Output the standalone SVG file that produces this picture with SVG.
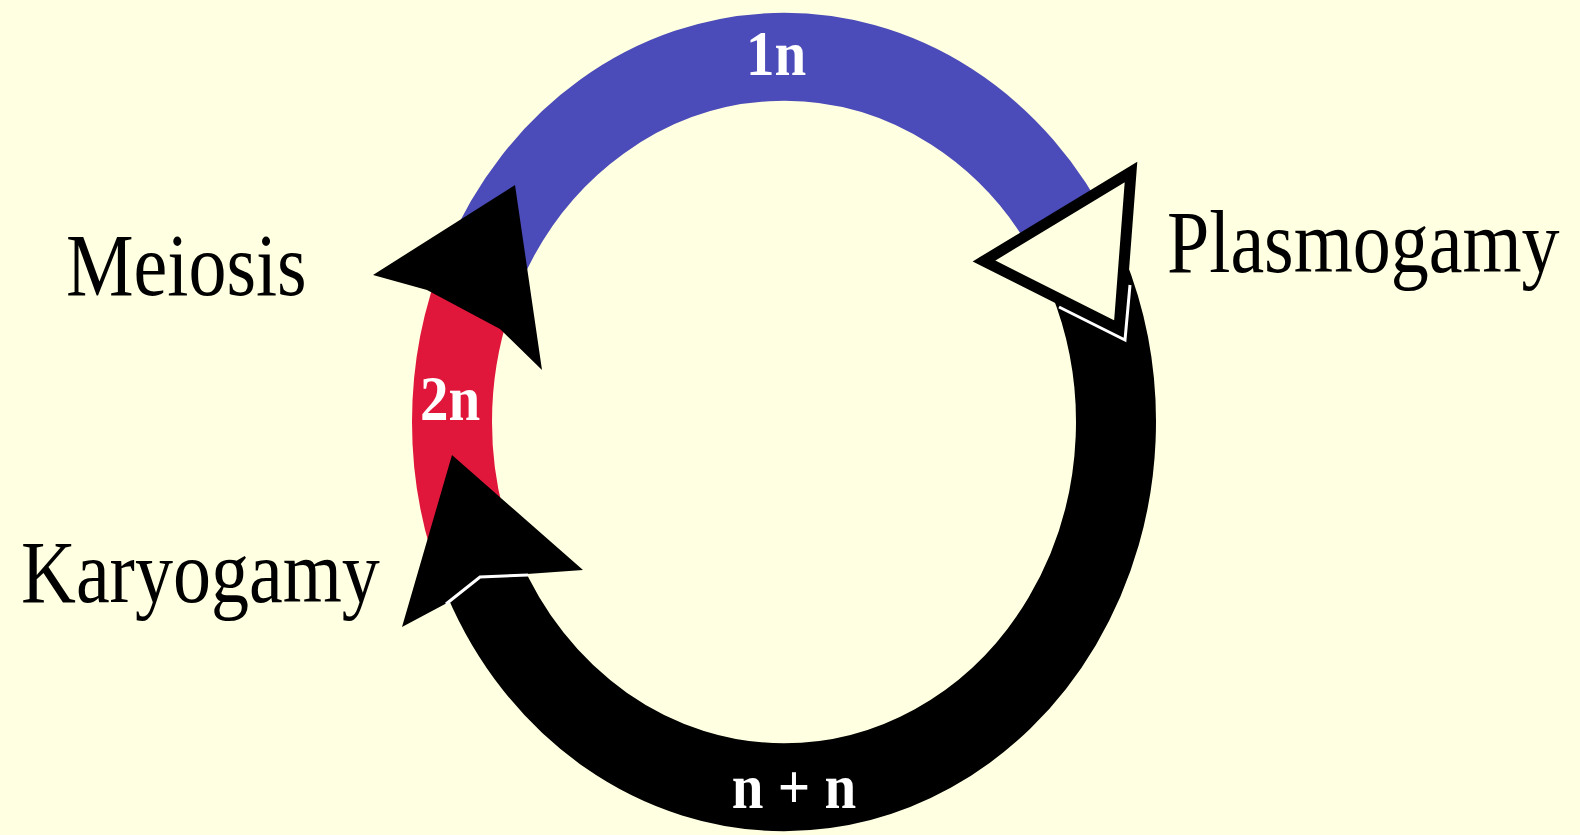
<svg xmlns="http://www.w3.org/2000/svg" width="1580" height="835" viewBox="0 0 1580 835">
  <style>
    .ring { fill: none; stroke-width: 80; stroke-linecap: butt; }
    .blue { stroke: #4B4BB9; }
    .red { stroke: #E0173A; }
    .black { stroke: #000000; }
    .label { font-family: "Liberation Serif", "Times New Roman", serif; font-size: 76px; fill: #000000; }
    .ploidy { font-family: "Liberation Serif", "Times New Roman", serif; font-size: 57px; font-weight: bold; fill: #FFFFFF; text-anchor: middle; }
    .sep { fill: none; stroke: #FFFFFF; stroke-width: 3; stroke-linejoin: miter; }
  </style>
  <rect x="0" y="0" width="1580" height="835" fill="#FFFFE1"/>

  <g id="connectors">
    <g transform="translate(784,422) scale(1,1.1)">
      <path id="arc-1n" class="ring blue" d="M -300.9 -140.3 A 332 332 0 0 1 293.1 -155.9"/>
      <path id="arc-2n" class="ring red" d="M -300.9 140.3 A 332 332 0 0 1 -300.9 -140.3"/>
      <path id="arc-nn" class="ring black" d="M 303.3 -135.0 A 332 332 0 0 1 0 332 A 332 332 0 0 1 -300.9 140.3"/>
    </g>
    <!-- Meiosis arrowhead -->
    <polygon id="head-meiosis" points="373,275 515,185 542,370 500,329 427,290" fill="#000000"/>
    <!-- Plasmogamy arrowhead (open) -->
    <g id="head-plasmogamy">
      <polygon points="984,261 1131,172 1119,329" fill="#FFFFE1" stroke="#000000" stroke-width="11" stroke-linejoin="miter"/>
      <polyline class="sep" points="1059,307 1125,340 1130,285"/>
    </g>
    <!-- Karyogamy arrowhead -->
    <g id="head-karyogamy">
      <polygon points="452,455 583,570 527,574 480,577 447,603 402,627" fill="#000000"/>
      <polyline class="sep" points="446,604 480,577 528,575"/>
    </g>
    <g id="edge-labels">
      <text class="ploidy" transform="translate(776,75) scale(1,1.12)">1n</text>
      <text class="ploidy" transform="translate(450,420) scale(1,1.12)">2n</text>
      <text class="ploidy" transform="translate(794,808) scale(1,1.12)">n + n</text>
    </g>
  </g>

  <g id="node-meiosis">
    <text class="label" transform="translate(66,295) scale(1,1.16)">Meiosis</text>
  </g>
  <g id="node-plasmogamy">
    <text class="label" transform="translate(1167,272) scale(1,1.16)">Plasmogamy</text>
  </g>
  <g id="node-karyogamy">
    <text class="label" transform="translate(21,602) scale(1,1.16)">Karyogamy</text>
  </g>
</svg>
